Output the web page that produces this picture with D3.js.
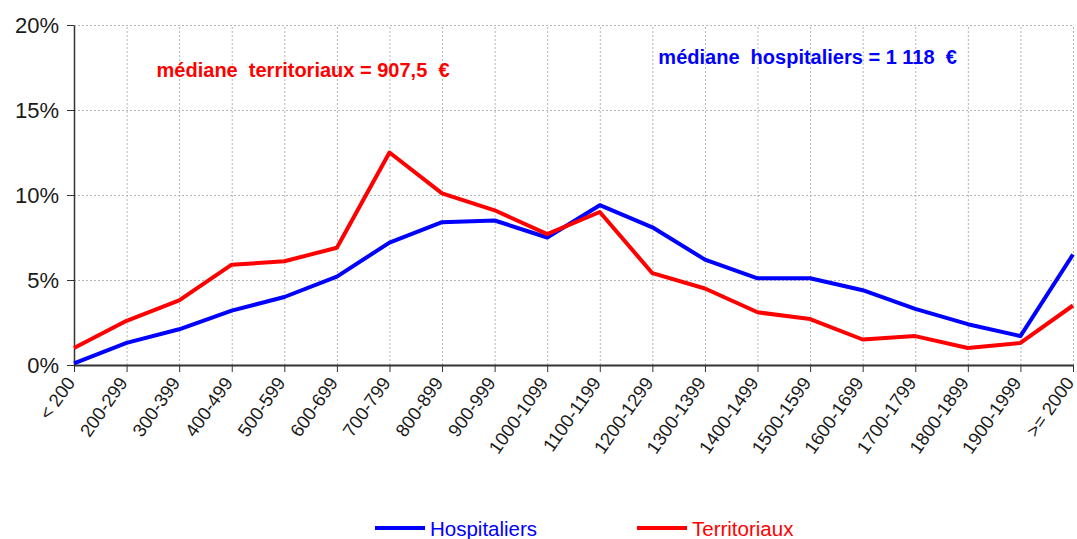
<!DOCTYPE html>
<html>
<head>
<meta charset="utf-8">
<script src="https://cdn.jsdelivr.net/npm/d3@7"></script>
<style>
  body { margin: 0; background: #fff; }
  svg text { font-family: "Liberation Sans", Arial, sans-serif; }
  .grid line { stroke: #b4b4b4; stroke-dasharray: 2,2; }
  .grid .domain { display: none; }
  .axis .domain, .axis line { stroke: #333; }
  .axis text { fill: #1a1a1a; }
</style>
</head>
<body>
<script>

var categories = ["< 200", "200-299", "300-399", "400-499", "500-599", "600-699",
    "700-799", "800-899", "900-999", "1000-1099", "1100-1199", "1200-1299",
    "1300-1399", "1400-1499", "1500-1599", "1600-1699", "1700-1799",
    "1800-1899", "1900-1999", ">= 2000"];

var hospitaliers = [0.1, 1.3, 2.1, 3.2, 4.0, 5.2, 7.2, 8.4, 8.5, 7.5,
    9.4, 8.1, 6.2, 5.1, 5.1, 4.4, 3.3, 2.4, 1.7, 6.5];

var territoriaux = [1.0, 2.6, 3.8, 5.9, 6.1, 6.9, 12.5, 10.1, 9.1, 7.7,
    9.0, 5.4, 4.5, 3.1, 2.7, 1.5, 1.7, 1.0, 1.3, 3.5];

var yTicks = [0, 5, 10, 15, 20];

var seriesNames = ["Hospitaliers", "Territoriaux"];
var seriesColors = ["#0000ff", "#ff0000"];

var medianLabels = ["médiane  territoriaux = 907,5  €", "médiane  hospitaliers = 1 118  €"];


var size_graph = { x: 1077, y: 539 };

var margin = {top: 25, right: 4, bottom: 174, left: 74},
    width  = size_graph.x - margin.left - margin.right,
    height = size_graph.y - margin.top - margin.bottom;

var x = d3.scalePoint()
    .domain(categories)
    .range([0, width]);

var y = d3.scaleLinear()
    .domain([0, 20])
    .range([height, 0]);

var svg = d3.select("body").append("svg")
    .attr("width", size_graph.x)
    .attr("height", size_graph.y)
  .append("g")
    .attr("transform", `translate(${margin.left},${margin.top})`);

// grid
svg.append("g")
    .attr("class", "grid")
    .call(d3.axisLeft(y).tickValues(yTicks).tickSize(-width).tickFormat(""));

svg.append("g")
    .attr("class", "grid")
    .attr("transform", `translate(0,${height})`)
    .call(d3.axisBottom(x).tickSize(-height).tickFormat(""));

// axes
var yAxis = svg.append("g")
    .attr("class", "axis")
    .call(d3.axisLeft(y).tickValues(yTicks).tickSize(7).tickSizeOuter(0).tickFormat(d => d + "%"));
yAxis.selectAll("text").style("font-size", "22px").attr("dx", "-5px");
yAxis.select(".domain").attr("stroke-width", 1.5);

var xAxis = svg.append("g")
    .attr("class", "axis")
    .attr("transform", `translate(0,${height})`)
    .call(d3.axisBottom(x).tickSize(7).tickSizeOuter(0));
xAxis.selectAll("text")
    .style("font-size", "18.5px")
    .style("text-anchor", "end")
    .attr("y", 0)
    .attr("dy", "0.35em")
    .attr("transform", "translate(-4,14) rotate(-55)");
xAxis.select(".domain").attr("stroke-width", 2);

// lines
var line = d3.line()
    .x((d, i) => x(categories[i]))
    .y(d => y(d));

[hospitaliers, territoriaux].forEach(function(values, k) {
    svg.append("path")
        .datum(values)
        .attr("fill", "none")
        .attr("stroke", seriesColors[k])
        .attr("stroke-width", 4)
        .attr("stroke-linejoin", "round")
        .attr("d", line);
});

// median notes
svg.append("text")
    .attr("x", x("200-299") + 30)
    .attr("y", 52)
    .attr("fill", seriesColors[1])
    .style("font-weight", "bold")
    .style("font-size", "20px")
    .style("white-space", "pre")
    .text(medianLabels[0]);

svg.append("text")
    .attr("x", x("1200-1299") + 6)
    .attr("y", 39)
    .attr("fill", seriesColors[0])
    .style("font-weight", "bold")
    .style("font-size", "20px")
    .style("white-space", "pre")
    .text(medianLabels[1]);

// legend
var legend = svg.append("g")
    .attr("transform", `translate(0,${height + 163})`);

var legendX = [301, 563];
seriesNames.forEach(function(name, k) {
    var g = legend.append("g").attr("transform", `translate(${legendX[k]},0)`);
    g.append("line")
        .attr("x1", 0).attr("x2", 50)
        .attr("y1", 0).attr("y2", 0)
        .attr("stroke", seriesColors[k])
        .attr("stroke-width", 4);
    g.append("text")
        .attr("x", 55)
        .attr("y", 8)
        .attr("fill", seriesColors[k])
        .style("font-size", "20.5px")
        .text(name);
});

</script>
</body>
</html>
